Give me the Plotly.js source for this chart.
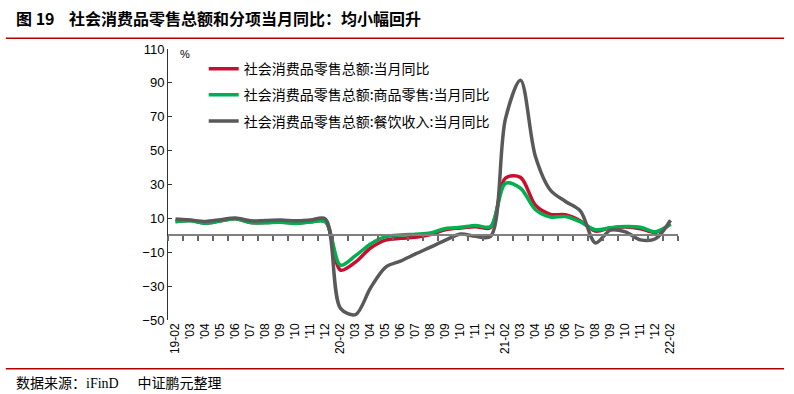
<!DOCTYPE html>
<html>
<head>
<meta charset="utf-8">
<script src="https://cdn.plot.ly/plotly-3.0.1.min.js"></script>
<style>
html,body{margin:0;padding:0;background:#fff;}
#chart{width:794px;height:394px;}
</style>
</head>
<body>
<div id="chart"></div>
<script>
// Categories (no January: Jan-Feb combined)
const months = ["19-02","19-03","19-04","19-05","19-06","19-07","19-08","19-09","19-10","19-11","19-12",
  "20-02","20-03","20-04","20-05","20-06","20-07","20-08","20-09","20-10","20-11","20-12",
  "21-02","21-03","21-04","21-05","21-06","21-07","21-08","21-09","21-10","21-11","21-12",
  "22-02"];
const tickLabels = ["19-02","'03","'04","'05","'06","'07","'08","'09","'10","'11","'12",
  "20-02","'03","'04","'05","'06","'07","'08","'09","'10","'11","'12",
  "21-02","'03","'04","'05","'06","'07","'08","'09","'10","'11","'12",
  "22-02"];
// 社会消费品零售总额:当月同比
const retailTotal = [8.2,8.7,7.2,8.6,9.8,7.6,7.5,7.8,7.2,8.0,8.0,
  -20.5,-15.8,-7.5,-2.8,-1.8,-1.1,0.5,3.3,4.3,5.0,4.6,
  33.8,34.2,17.7,12.4,12.1,8.5,2.5,4.4,4.9,3.9,1.7,
  6.7];
// 社会消费品零售总额:商品零售:当月同比
const retailGoods = [8.0,8.6,7.1,8.5,9.8,7.5,7.4,7.7,7.0,7.9,7.9,
  -17.6,-12.0,-5.1,-0.8,0.2,0.7,1.4,4.0,4.7,5.8,5.2,
  30.7,27.8,15.1,10.8,11.1,7.9,3.3,4.5,5.2,4.8,2.1,
  6.5];
// 社会消费品零售总额:餐饮收入:当月同比
const catering = [9.7,9.0,8.2,9.2,10.2,8.6,8.7,9.0,8.6,9.0,9.6,
  -43.1,-46.8,-31.1,-18.9,-15.2,-11.0,-7.0,-2.9,0.8,-0.6,-0.6,
  68.9,91.6,46.4,26.6,20.0,14.3,-4.5,3.1,2.0,-2.7,-2.0,
  8.9];

const seriesNames = ["社会消费品零售总额:当月同比","社会消费品零售总额:商品零售:当月同比","社会消费品零售总额:餐饮收入:当月同比"];
const seriesColors = ["#C8102E","#00B050","#595959"];
const seriesData = [retailTotal, retailGoods, catering];
const drawOrder = [0,1,2];

const traces = drawOrder.map(i => ({
  type:"scatter", mode:"lines", x:months, y:seriesData[i], name:seriesNames[i],
  legendgroup:"g"+i,
  line:{color:seriesColors[i], width:3.5, shape:"spline", smoothing:0.9},
  hoverinfo:"skip"
}));
// dummy trace on xaxis2 to show the boundary ticks at the zero line
traces.push({type:"scatter", mode:"none", x:months, y:retailTotal, xaxis:"x2", showlegend:false, hoverinfo:"skip"});

const yMin=-50, yMax=110;
const layout = {
  width:794, height:394,
  margin:{l:168, r:116, t:49, b:74},
  paper_bgcolor:"#fff", plot_bgcolor:"#fff",
  font:{family:"Liberation Sans, Arial, sans-serif", color:"#000"},
  showlegend:true,
  legend:{x:0.07, y:0.985, xanchor:"left", yanchor:"top", bgcolor:"rgba(0,0,0,0)",
    font:{family:"Noto Sans CJK SC, sans-serif", size:14, color:"#000"},
    itemwidth:30, tracegroupgap:5, traceorder:"grouped"},
  xaxis:{type:"category", range:[-0.5,33.5], tickmode:"array", tickvals:months, ticktext:tickLabels,
    tickangle:-90, tickfont:{size:12, family:"Liberation Sans, Arial, sans-serif"},
    showline:false, ticks:"", showgrid:false, zeroline:false, fixedrange:true},
  xaxis2:{type:"category", overlaying:"x", anchor:"free", position:(0-yMin)/(yMax-yMin), range:[-0.5,33.5],
    showticklabels:false, ticks:"outside", ticklen:5, tickwidth:1.2, tickcolor:"#666",
    tickson:"boundaries", showline:true, linecolor:"#808080", linewidth:2, showgrid:false, zeroline:false},
  yaxis:{range:[yMin,yMax], dtick:20, tick0:-50, ticks:"inside", ticklen:4, tickcolor:"#333",
    showline:true, linecolor:"#333", linewidth:1, showgrid:false, zeroline:false,
    tickfont:{size:13, family:"Liberation Sans, Arial, sans-serif"}},
  annotations:[
    {xref:"paper", yref:"paper", x:0.02, y:1.01, text:"%", showarrow:false, xanchor:"left", yanchor:"top",
      font:{size:11, family:"Liberation Sans, Arial, sans-serif"}},
    {xref:"paper", yref:"paper", x:-0.302, y:1.114, xanchor:"left", yanchor:"middle", showarrow:false,
      text:"<b>图 19    社会消费品零售总额和分项当月同比：均小幅回升</b>",
      font:{size:16, family:"Noto Sans CJK SC, sans-serif"}},
    {xref:"paper", yref:"paper", x:-0.302, y:-0.229, xanchor:"left", yanchor:"middle", showarrow:false,
      text:"数据来源：<span style=\"font-family:Liberation Serif\">iFinD</span>      中证鹏元整理",
      font:{size:14, family:"Noto Sans CJK SC, sans-serif"}}
  ],
  shapes:[
    {type:"line", xref:"paper", yref:"paper", x0:-0.318, x1:1.208, y0:1.04, y1:1.04, line:{color:"#B00000", width:1.5}},
    {type:"line", xref:"paper", yref:"paper", x0:-0.318, x1:1.208, y0:-0.18, y1:-0.18, line:{color:"#B00000", width:1.5}}
  ]
};
Plotly.newPlot("chart", traces, layout, {displayModeBar:false, staticPlot:true});
</script>
</body>
</html>
